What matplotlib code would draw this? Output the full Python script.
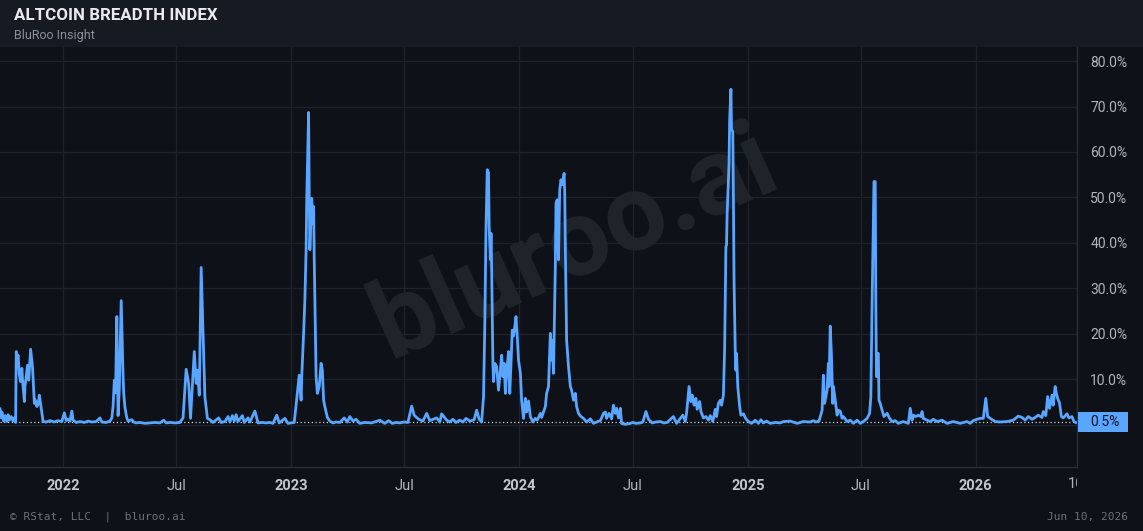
import matplotlib
matplotlib.use("Agg")
import matplotlib.pyplot as plt
import pandas as pd
from matplotlib.patches import Rectangle
from matplotlib.transforms import Bbox, TransformedBbox

# ---------------- data ----------------
dates = [
    "2021-09-22", "2021-09-24", "2021-09-25", "2021-09-28", "2021-09-30", "2021-10-03", "2021-10-05",
    "2021-10-07", "2021-10-10", "2021-10-13", "2021-10-15", "2021-10-17", "2021-10-18", "2021-10-19",
    "2021-10-21", "2021-10-23", "2021-10-25", "2021-10-27", "2021-10-28", "2021-10-31", "2021-11-01",
    "2021-11-03", "2021-11-05", "2021-11-07", "2021-11-10", "2021-11-13", "2021-11-16", "2021-11-17",
    "2021-11-20", "2021-11-22", "2021-11-24", "2021-11-27", "2021-11-28", "2021-11-30", "2021-12-05",
    "2021-12-11", "2021-12-18", "2021-12-24", "2021-12-30", "2022-01-03", "2022-01-06", "2022-01-09",
    "2022-01-12", "2022-01-15", "2022-01-17", "2022-01-22", "2022-01-28", "2022-02-04", "2022-02-10",
    "2022-02-16", "2022-02-23", "2022-03-01", "2022-03-04", "2022-03-11", "2022-03-17",
    "2022-03-20", "2022-03-22", "2022-03-24", "2022-03-26", "2022-03-28", "2022-03-29", "2022-03-30",
    "2022-04-01", "2022-04-04", "2022-04-07", "2022-04-08", "2022-04-10", "2022-04-13", "2022-04-15",
    "2022-04-21", "2022-04-24", "2022-04-28", "2022-05-04", "2022-05-12", "2022-05-20", "2022-05-28",
    "2022-06-05", "2022-06-11", "2022-06-15", "2022-06-21", "2022-06-29", "2022-07-07", "2022-07-12",
    "2022-07-17", "2022-07-21", "2022-07-24", "2022-07-30", "2022-08-02", "2022-08-04", "2022-08-07",
    "2022-08-10", "2022-08-14", "2022-08-16", "2022-08-20", "2022-08-24", "2022-08-29", "2022-09-07",
    "2022-09-11", "2022-09-17", "2022-09-22", "2022-09-25", "2022-09-29", "2022-10-02", "2022-10-05",
    "2022-10-08", "2022-10-15", "2022-10-18", "2022-10-24", "2022-10-27", "2022-11-04", "2022-11-09",
    "2022-11-16", "2022-11-22", "2022-11-28",
    "2022-12-03", "2022-12-09", "2022-12-13", "2022-12-22", "2022-12-27", "2023-01-06", "2023-01-14",
    "2023-01-17", "2023-01-18", "2023-01-21", "2023-01-23", "2023-01-25", "2023-01-26", "2023-01-29",
    "2023-01-30", "2023-01-31", "2023-02-03", "2023-02-05", "2023-02-06", "2023-02-07", "2023-02-08",
    "2023-02-10", "2023-02-12", "2023-02-15", "2023-02-18", "2023-02-20", "2023-02-22", "2023-02-24",
    "2023-02-28", "2023-03-04", "2023-03-09", "2023-03-14", "2023-03-20", "2023-03-27", "2023-04-01",
    "2023-04-05", "2023-04-10", "2023-04-15", "2023-04-21", "2023-04-29", "2023-05-10", "2023-05-23",
    "2023-05-31", "2023-06-06", "2023-06-12", "2023-06-18", "2023-06-24", "2023-07-01", "2023-07-07",
    "2023-07-13", "2023-07-17", "2023-07-24", "2023-07-31", "2023-08-06", "2023-08-11", "2023-08-22",
    "2023-08-27", "2023-08-30", "2023-09-07", "2023-09-12",
    "2023-09-17", "2023-09-22", "2023-09-28", "2023-10-03", "2023-10-08", "2023-10-14", "2023-10-21",
    "2023-10-25", "2023-10-29", "2023-11-02", "2023-11-05", "2023-11-07", "2023-11-09", "2023-11-11",
    "2023-11-13", "2023-11-14", "2023-11-16", "2023-11-17", "2023-11-18", "2023-11-20", "2023-11-21",
    "2023-11-23", "2023-11-26", "2023-11-29", "2023-12-02", "2023-12-04", "2023-12-06", "2023-12-08",
    "2023-12-10", "2023-12-12", "2023-12-15", "2023-12-17", "2023-12-19", "2023-12-21", "2023-12-23",
    "2023-12-25", "2023-12-27", "2023-12-29", "2023-12-31", "2024-01-03", "2024-01-05", "2024-01-08",
    "2024-01-11", "2024-01-13", "2024-01-16", "2024-01-19", "2024-01-23", "2024-01-27", "2024-01-30",
    "2024-02-04", "2024-02-06", "2024-02-12", "2024-02-14", "2024-02-17", "2024-02-20", "2024-02-21",
    "2024-02-23", "2024-02-25", "2024-02-28", "2024-02-29", "2024-03-02", "2024-03-04", "2024-03-06",
    "2024-03-08", "2024-03-10", "2024-03-13", "2024-03-14", "2024-03-15", "2024-03-17", "2024-03-20",
    "2024-03-23", "2024-03-25", "2024-03-28", "2024-03-31", "2024-04-02", "2024-04-05", "2024-04-09",
    "2024-04-13", "2024-04-18", "2024-04-24", "2024-04-29", "2024-05-04", "2024-05-10", "2024-05-15",
    "2024-05-18", "2024-05-20", "2024-05-24", "2024-05-28", "2024-05-31", "2024-06-03", "2024-06-05",
    "2024-06-08", "2024-06-11", "2024-06-13", "2024-06-19", "2024-06-27",
    "2024-07-01", "2024-07-06", "2024-07-13", "2024-07-17", "2024-07-22", "2024-07-26", "2024-08-01",
    "2024-08-07", "2024-08-14", "2024-08-20", "2024-08-25", "2024-09-04", "2024-09-09", "2024-09-19",
    "2024-09-23", "2024-09-25", "2024-09-29", "2024-10-02", "2024-10-04", "2024-10-07", "2024-10-10",
    "2024-10-12", "2024-10-16", "2024-10-18", "2024-10-22", "2024-10-26", "2024-10-30", "2024-11-02",
    "2024-11-06", "2024-11-10", "2024-11-12", "2024-11-15", "2024-11-18", "2024-11-20", "2024-11-23",
    "2024-11-25", "2024-11-26", "2024-11-27", "2024-11-28", "2024-11-29", "2024-12-02", "2024-12-03",
    "2024-12-05", "2024-12-06", "2024-12-08", "2024-12-09", "2024-12-10", "2024-12-12", "2024-12-13",
    "2024-12-14", "2024-12-16", "2024-12-19", "2024-12-21", "2024-12-25", "2024-12-29", "2025-01-02",
    "2025-01-07", "2025-01-13", "2025-01-18", "2025-01-22", "2025-01-26", "2025-01-31", "2025-02-06",
    "2025-02-14", "2025-02-22", "2025-02-27", "2025-03-10", "2025-03-21", "2025-03-31", "2025-04-11",
    "2025-04-16", "2025-04-20", "2025-04-25", "2025-04-30", "2025-05-02", "2025-05-04", "2025-05-08",
    "2025-05-10", "2025-05-11", "2025-05-13", "2025-05-15", "2025-05-17", "2025-05-18", "2025-05-21",
    "2025-05-24", "2025-05-26", "2025-05-29", "2025-06-01", "2025-06-03", "2025-06-09", "2025-06-14",
    "2025-06-19", "2025-06-25", "2025-06-30", "2025-07-05", "2025-07-11", "2025-07-15", "2025-07-17",
    "2025-07-19", "2025-07-21", "2025-07-22", "2025-07-24", "2025-07-25", "2025-07-26", "2025-07-28",
    "2025-07-29", "2025-07-30", "2025-08-01", "2025-08-04", "2025-08-07", "2025-08-12", "2025-08-16",
    "2025-08-20", "2025-08-25", "2025-08-30", "2025-09-07", "2025-09-15", "2025-09-18", "2025-09-21",
    "2025-09-23", "2025-09-27", "2025-10-01", "2025-10-05", "2025-10-07", "2025-10-09", "2025-10-15",
    "2025-10-20", "2025-10-25", "2025-10-31", "2025-11-08", "2025-11-16", "2025-11-26", "2025-12-07",
    "2025-12-18", "2025-12-23", "2025-12-28", "2026-01-03", "2026-01-08", "2026-01-13", "2026-01-17",
    "2026-01-20", "2026-01-24",
    "2026-02-01", "2026-02-09", "2026-02-20", "2026-03-02", "2026-03-10", "2026-03-16", "2026-03-21",
    "2026-03-26", "2026-04-01", "2026-04-06", "2026-04-11", "2026-04-17", "2026-04-19", "2026-04-23",
    "2026-04-26", "2026-04-29", "2026-05-03", "2026-05-05", "2026-05-08", "2026-05-10", "2026-05-12",
    "2026-05-15", "2026-05-18", "2026-05-21", "2026-05-27", "2026-05-30", "2026-06-04", "2026-06-07",
    "2026-06-10",
]

breadth_pct = [
    3.5, 1.5, 2.8, 0.8, 2.0, 0.7, 2.2,
    1.0, 1.8, 0.8, 1.5, 0.5, 16.1, 14.0,
    15.3, 11.0, 9.5, 12.4, 10.0, 5.1, 8.5,
    10.6, 13.1, 9.8, 16.6, 12.8, 4.7, 5.5,
    4.0, 4.5, 6.5, 3.6, 2.5, 0.7, 0.6,
    0.9, 0.6, 0.9, 0.7, 2.6, 0.9, 1.2,
    0.8, 3.0, 1.0, 0.5, 0.7, 0.5, 0.8,
    0.6, 0.7, 1.5, 0.6, 0.5, 0.8,
    1.5, 4.0, 9.8, 7.0, 23.8, 12.0, 2.0,
    8.0, 27.3, 10.8, 7.0, 3.8, 1.5, 0.8,
    1.1, 0.6, 0.4, 0.5, 0.3, 0.4, 0.5,
    0.4, 1.0, 0.4, 0.5, 0.4, 0.5, 1.5,
    12.2, 9.1, 1.4, 16.1, 9.1, 12.0, 6.5,
    34.6, 15.8, 6.1, 1.4, 1.1, 0.5, 1.5,
    0.5, 0.7, 1.8, 0.6, 2.0, 0.8, 2.2,
    0.7, 2.0, 0.5, 1.5, 0.6, 3.0, 0.4,
    0.5, 0.4, 0.5,
    0.3, 2.1, 0.4, 1.4, 0.3, 0.5, 10.9,
    5.4, 10.5, 20.1, 27.4, 38.5, 49.5, 68.7,
    50.2, 38.5, 49.8, 44.3, 48.0, 36.3, 27.4,
    10.6, 6.9, 8.4, 13.5, 12.0, 5.4, 4.0,
    1.6, 0.8, 0.4, 0.6, 0.5, 1.5, 0.6,
    1.8, 0.8, 1.2, 0.3, 0.5, 0.4, 1.0,
    0.3, 0.9, 0.3, 0.5, 0.4, 0.6, 0.5,
    4.1, 2.1, 1.2, 0.8, 2.5, 0.9, 1.5,
    0.6, 2.4, 1.0, 0.6,
    1.2, 0.5, 1.0, 0.6, 1.4, 0.8, 1.1,
    3.2, 1.2, 0.6, 6.2, 21.6, 43.6, 56.1,
    55.5, 43.6, 36.3, 42.1, 34.8, 13.5, 9.5,
    13.5, 12.8, 7.6, 12.0, 15.3, 10.6, 13.5,
    6.9, 11.3, 16.1, 6.9, 13.5, 20.8, 19.5,
    21.5, 23.8, 19.4, 14.2, 11.3, 5.4, 1.4,
    5.8, 2.8, 5.2, 1.8, 0.6, 1.4, 1.0,
    2.5, 1.6, 4.0, 6.9, 8.4, 20.1, 14.2,
    18.6, 11.3, 35.5, 48.7, 49.5, 36.3, 51.7,
    53.9, 52.8, 55.3, 51.0, 38.5, 18.6, 12.8,
    8.4, 7.6, 5.4, 6.9, 4.0, 2.5, 1.8,
    1.4, 0.6, 1.3, 0.3, 0.6, 0.9, 2.5,
    2.8, 1.4, 2.5, 1.3, 4.3, 2.5, 3.6,
    1.5, 3.6, 0.3, 0.1, 0.3,
    0.5, 0.3, 0.4, 0.6, 2.9, 1.2, 0.4,
    0.6, 0.7, 0.4, 0.5, 1.8, 0.3, 2.1,
    0.7, 2.5, 8.4, 5.1, 6.5, 4.3, 5.8,
    3.4, 5.1, 2.9, 1.5, 1.8, 1.0, 2.0,
    0.7, 3.4, 1.8, 4.7, 5.4, 4.3, 6.5,
    17.2, 27.4, 39.2, 39.5, 46.5, 57.5, 67.1,
    73.8, 64.9, 64.5, 50.2, 31.9, 15.7, 12.0,
    15.7, 8.4, 4.0, 2.1, 2.4, 1.3, 0.7,
    0.3, 1.0, 0.3, 1.1, 0.4, 0.8, 0.3,
    0.5, 0.4, 0.7, 0.8, 0.3, 0.7, 0.6,
    0.9, 0.6, 0.8, 3.2, 10.9, 4.7, 7.6,
    13.5, 8.4, 21.7, 15.0, 4.7, 8.4, 5.4,
    2.1, 3.2, 3.0, 1.4, 1.8, 0.7, 1.0,
    0.3, 1.0, 0.3, 0.7, 1.4, 2.5, 6.2,
    26.7, 45.1, 53.5, 53.5, 26.7, 10.6, 15.7,
    15.7, 5.4, 4.7, 3.2, 1.8, 2.5, 1.4,
    0.7, 0.9, 0.3, 0.7, 0.3, 3.6, 1.0,
    2.1, 1.8, 2.1, 1.8, 2.9, 1.4, 1.0,
    0.7, 1.2, 0.7, 1.0, 0.3, 0.7, 0.3,
    0.7, 0.3, 0.9, 1.2, 1.4, 1.4, 5.8,
    1.8, 1.4,
    0.7, 0.6, 0.7, 1.0, 1.9, 1.6, 1.0,
    1.8, 1.2, 1.6, 2.1, 1.6, 2.9, 2.0,
    6.2, 3.6, 6.5, 4.3, 8.4, 6.9, 5.8,
    4.8, 1.8, 1.5, 2.4, 1.5, 1.8, 0.7,
    0.5,
]

y_tick_values = [0, 10, 20, 30, 40, 50, 60, 70, 80]
x_tick_dates = ["2022-01-01", "2022-07-01", "2023-01-01", "2023-07-01", "2024-01-01",
                "2024-07-01", "2025-01-01", "2025-07-01", "2026-01-01"]
x_tick_labels = ["2022", "Jul", "2023", "Jul", "2024", "Jul", "2025", "Jul", "2026"]
x_range = ["2021-09-22", "2026-06-12"]
last_value = 0.5

title_text = "ALTCOIN BREADTH INDEX"
subtitle_text = "BluRoo Insight"
footer_left = "\u00a9 RStat, LLC  |  bluroo.ai"
footer_right = "Jun 10, 2026"
watermark = "bluroo.ai"

# ---------------- styling ----------------
W, H = 1143, 531
BG = "#0e1117"
HEADER = "#161a23"
LINE = "#58a6ff"
GRID = "#1e222c"
AXIS = "#2a2e39"
TICK = "#b2b5be"

fig = plt.figure(figsize=(W / 100, H / 100), dpi=100, facecolor=BG)
fig.patches.append(Rectangle((0, 1 - 47 / H), 1, 47 / H, transform=fig.transFigure,
                             facecolor=HEADER, edgecolor="none", zorder=0))

ax = fig.add_axes([0, 1 - 467 / H, 1077 / W, (467 - 47) / H])
ax.set_facecolor(BG)

x = pd.to_datetime(dates)
ax.plot(x, breadth_pct, color=LINE, lw=2.0, solid_joinstyle="round", zorder=4)
ax.axhline(last_value, color="#cfd4de", lw=0.9, ls=(0, (1, 2)), zorder=3)

ax.set_xlim(pd.Timestamp(x_range[0]), pd.Timestamp(x_range[1]))
ax.set_ylim(-9.3, 83.1)

ax.set_yticks(y_tick_values)
ax.set_yticklabels(["" if v == 0 else f"{v:.1f}%" for v in y_tick_values])
ax.yaxis.tick_right()
ax.tick_params(axis="y", length=0, pad=9.5, labelsize=10, labelcolor=TICK)
for lab in ax.get_yticklabels():
    lab.set_family("Roboto")

ax.set_xticks(pd.to_datetime(x_tick_dates))
ax.set_xticklabels(x_tick_labels)
ax.tick_params(axis="x", length=0, pad=9, labelsize=10.5, labelcolor=TICK)
for lab in ax.get_xticklabels():
    lab.set_family("Roboto")
    if lab.get_text().isdigit():
        lab.set_fontweight("bold")
        lab.set_color("#c3c6cc")

ax.grid(True, color=GRID, lw=0.9, zorder=0)
ax.set_axisbelow(True)
for side in ("top", "left"):
    ax.spines[side].set_visible(False)
for side in ("right", "bottom"):
    ax.spines[side].set_color(AXIS)
    ax.spines[side].set_linewidth(1.0)

# watermark behind the line
ax.text(575 / W, 1 - 245 / H, watermark, transform=fig.transFigure, rotation=24,
        fontsize=78, fontweight="bold", family="Roboto", color="#21242b",
        ha="center", va="center", zorder=1)

# last value badge
badge_y = ax.transData.transform((0, last_value))[1] / H
fig.patches.append(Rectangle((1078 / W, badge_y - 10 / H), 50 / W, 20 / H, transform=fig.transFigure,
                             facecolor=LINE, edgecolor="none", zorder=5))
fig.text(1105 / W, badge_y, f"{last_value:.1f}%", ha="center", va="center",
         fontsize=10, family="Roboto", color="#0e1117", zorder=6)

# clipped tick label at the right edge
t = fig.text(1068 / W, 1 - 484 / H, "10", ha="left", va="center", fontsize=10.5,
             family="Roboto", color=TICK)
t.set_clip_box(TransformedBbox(Bbox([[0, 0], [1077 / W, 1]]), fig.transFigure))
t.set_clip_on(True)

# header text
fig.text(14 / W, 1 - 16 / H, title_text, fontsize=12.2, fontweight="bold", family="Roboto",
         color="#e8eaed", va="center", ha="left")
fig.text(14 / W, 1 - 36 / H, subtitle_text, fontsize=9, family="Roboto",
         color="#8b9099", va="center", ha="left")

# footer
fig.text(10 / W, 1 - 517 / H, footer_left, fontsize=8, family="DejaVu Sans Mono",
         color="#6c717a", va="center", ha="left")
fig.text(1128 / W, 1 - 517 / H, footer_right, fontsize=8, family="DejaVu Sans Mono",
         color="#6c717a", va="center", ha="right")

fig.savefig("out.png", dpi=100, facecolor=BG)
